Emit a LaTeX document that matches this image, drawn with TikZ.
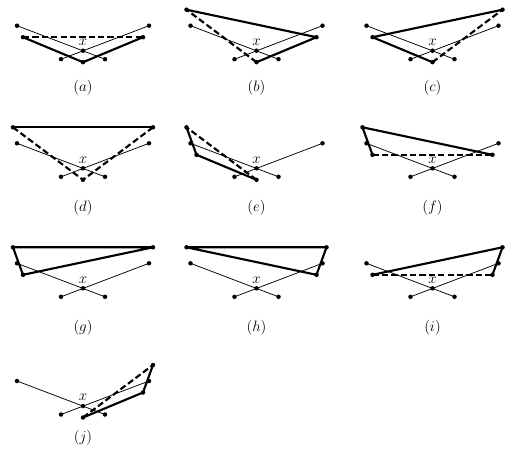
\documentclass[tikz,border=0pt]{standalone}
\usepackage{tikz}

\tikzset{
	thin seg/.style={line width=0.6pt},
	thick seg/.style={line width=1.7pt, line join=round},
	dash seg/.style={line width=1.7pt, dash pattern=on 5pt off 2.5pt},
}

\newcommand{\xpanel}[4]{
	\pgfmathsetmacro{\XPx}{#2}
	\pgfmathsetmacro{\XPy}{#3}
	\coordinate (#1-x) at (\XPx, \XPy);
	\coordinate (#1-s1) at (\XPx-66, \XPy-25);
	\coordinate (#1-s2) at (\XPx+22, \XPy+8.5);
	\coordinate (#1-t1) at (\XPx-22, \XPy+8.5);
	\coordinate (#1-t2) at (\XPx+66, \XPy-25);
	\coordinate (#1-tl) at (\XPx-70, \XPy-41);
	\coordinate (#1-l) at (\XPx-60, \XPy-13.5);
	\coordinate (#1-b) at (\XPx, \XPy+11.5);
	\coordinate (#1-r) at (\XPx+60, \XPy-13.5);
	\coordinate (#1-tr) at (\XPx+70, \XPy-41);
	\draw[thin seg] (#1-s1) -- (#1-s2);
	\draw[thin seg] (#1-t1) -- (#1-t2);
	\node[above=3pt, inner sep=1pt, font=\large] (#1-lbl) at (#1-x) {$x$};
	\node[font=\large] (#1-cap) at (\XPx, #4) {$(#1)$};
}

\newcommand{\markpts}[2]{
	\foreach \q in {s1,s2,t1,t2,x,#2} {
		\fill (#1-\q) circle (1.8pt);
	}
}

\begin{document}
\begin{tikzpicture}[x=0.8pt, y=-0.8pt]
\useasboundingbox (0,0) rectangle (520,460);

\pgfmathsetmacro{\colA}{83}
\pgfmathsetmacro{\colB}{256.5}
\pgfmathsetmacro{\colC}{432.5}

\xpanel{a}{\colA}{50.7}{88}
\draw[dash seg] (a-l) -- (a-r);
\draw[thick seg] (a-l) -- (a-b) -- (a-r);
\markpts{a}{l,b,r}

\xpanel{b}{\colB}{50.7}{88}
\draw[dash seg] (b-b) -- (b-tl);
\draw[thick seg] (b-tl) -- (b-r) -- (b-b);
\markpts{b}{tl,r,b}

\xpanel{c}{\colC}{50.7}{88}
\draw[dash seg] (c-b) -- (c-tr);
\draw[thick seg] (c-tr) -- (c-l) -- (c-b);
\markpts{c}{tr,l,b}

\xpanel{d}{\colA}{168.3}{208}
\draw[dash seg] (d-tl) -- (d-b) -- (d-tr);
\draw[thick seg] (d-tl) -- (d-tr);
\markpts{d}{tl,tr,b}

\xpanel{e}{\colB}{168.3}{208}
\draw[dash seg] (e-b) -- (e-tl);
\draw[thick seg] (e-tl) -- (e-l) -- (e-b);
\markpts{e}{tl,l,b}

\xpanel{f}{\colC}{168.3}{208}
\draw[dash seg] (f-l) -- (f-r);
\draw[thick seg] (f-l) -- (f-tl) -- (f-r);
\markpts{f}{tl,l,r}

\xpanel{g}{\colA}{288.3}{328}
\draw[thick seg] (g-tr) -- (g-tl) -- (g-l) -- cycle;
\markpts{g}{tl,tr,l}

\xpanel{h}{\colB}{288.3}{328}
\draw[thick seg] (h-tl) -- (h-tr) -- (h-r) -- cycle;
\markpts{h}{tl,tr,r}

\xpanel{i}{\colC}{288.3}{328}
\draw[dash seg] (i-l) -- (i-r);
\draw[thick seg] (i-l) -- (i-tr) -- (i-r);
\markpts{i}{tr,l,r}

\xpanel{j}{\colA}{406}{438}
\draw[dash seg] (j-b) -- (j-tr);
\draw[thick seg] (j-b) -- (j-r) -- (j-tr);
\markpts{j}{tr,r,b}
\end{tikzpicture}
\end{document}
